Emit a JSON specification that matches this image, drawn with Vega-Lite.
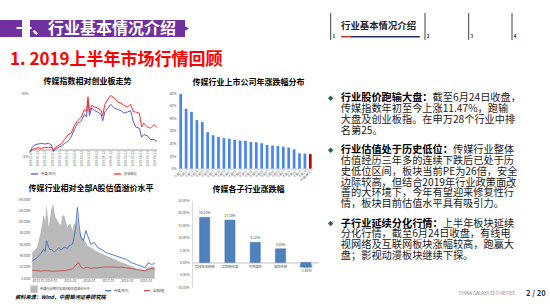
{
  "$schema": "https://vega.github.io/schema/vega-lite/v6.json",
  "background": "white",
  "padding": 0,
  "datasets": {
    "trend": [
      {"date":"2019-01-02","media":-2,"cyb":-2},
      {"date":"2019-01-05","media":2,"cyb":0},
      {"date":"2019-01-09","media":4,"cyb":1},
      {"date":"2019-01-13","media":4.5,"cyb":1.5},
      {"date":"2019-01-18","media":5,"cyb":1},
      {"date":"2019-01-22","media":4.5,"cyb":2},
      {"date":"2019-01-27","media":5,"cyb":1.5},
      {"date":"2019-01-31","media":4,"cyb":2},
      {"date":"2019-02-03","media":-1.5,"cyb":-0.5},
      {"date":"2019-02-06","media":1,"cyb":2},
      {"date":"2019-02-09","media":1.5,"cyb":3},
      {"date":"2019-02-14","media":3,"cyb":5},
      {"date":"2019-02-18","media":5,"cyb":8},
      {"date":"2019-02-23","media":7,"cyb":12},
      {"date":"2019-02-27","media":10,"cyb":13},
      {"date":"2019-03-04","media":17,"cyb":20},
      {"date":"2019-03-08","media":21,"cyb":23},
      {"date":"2019-03-13","media":23,"cyb":26},
      {"date":"2019-03-17","media":28,"cyb":32},
      {"date":"2019-03-20","media":26,"cyb":30},
      {"date":"2019-03-22","media":39,"cyb":42},
      {"date":"2019-03-24","media":27,"cyb":30},
      {"date":"2019-03-27","media":33,"cyb":35},
      {"date":"2019-03-31","media":31,"cyb":34},
      {"date":"2019-04-04","media":30,"cyb":33},
      {"date":"2019-04-09","media":28,"cyb":31},
      {"date":"2019-04-11","media":23,"cyb":27},
      {"date":"2019-04-14","media":30,"cyb":36},
      {"date":"2019-04-18","media":33,"cyb":40},
      {"date":"2019-04-22","media":36,"cyb":43},
      {"date":"2019-04-27","media":33,"cyb":41},
      {"date":"2019-05-01","media":32,"cyb":38},
      {"date":"2019-05-06","media":31,"cyb":37},
      {"date":"2019-05-10","media":29,"cyb":35},
      {"date":"2019-05-15","media":30,"cyb":34},
      {"date":"2019-05-19","media":31,"cyb":36},
      {"date":"2019-05-23","media":22,"cyb":30},
      {"date":"2019-05-26","media":18,"cyb":30},
      {"date":"2019-05-31","media":17,"cyb":29},
      {"date":"2019-06-03","media":10,"cyb":18},
      {"date":"2019-06-06","media":12,"cyb":21},
      {"date":"2019-06-11","media":11,"cyb":18},
      {"date":"2019-06-15","media":8,"cyb":17},
      {"date":"2019-06-20","media":8,"cyb":20},
      {"date":"2019-06-24","media":6.5,"cyb":17.5}
    ],
    "stocks": [
      {"name":"个股01","pct":59.2,"kind":"个股"},
      {"name":"个股02","pct":47.5,"kind":"个股"},
      {"name":"个股03","pct":45.1,"kind":"个股"},
      {"name":"个股04","pct":38.5,"kind":"个股"},
      {"name":"个股05","pct":36.9,"kind":"个股"},
      {"name":"个股06","pct":28.9,"kind":"个股"},
      {"name":"个股07","pct":26.5,"kind":"个股"},
      {"name":"个股08","pct":25.2,"kind":"个股"},
      {"name":"个股09","pct":24.1,"kind":"个股"},
      {"name":"个股10","pct":23.8,"kind":"个股"},
      {"name":"个股11","pct":22.8,"kind":"个股"},
      {"name":"个股12","pct":22.2,"kind":"个股"},
      {"name":"个股13","pct":22.0,"kind":"个股"},
      {"name":"个股14","pct":21.2,"kind":"个股"},
      {"name":"个股15","pct":20.9,"kind":"个股"},
      {"name":"个股16","pct":20.1,"kind":"个股"},
      {"name":"个股17","pct":18.8,"kind":"个股"},
      {"name":"个股18","pct":18.3,"kind":"个股"},
      {"name":"个股19","pct":18.0,"kind":"个股"},
      {"name":"个股20","pct":17.4,"kind":"个股"},
      {"name":"个股21","pct":16.7,"kind":"个股"},
      {"name":"个股22","pct":15.3,"kind":"个股"},
      {"name":"个股23","pct":12.1,"kind":"个股"},
      {"name":"个股24","pct":11.9,"kind":"个股"},
      {"name":"传媒(申万)","pct":11.47,"kind":"行业指数"}
    ],
    "valuation": [
      {"date":"2013-01-04","premium":45,"media":30,"allA":13.6},
      {"date":"2013-04-08","premium":54,"media":36,"allA":13},
      {"date":"2013-06-10","premium":78,"media":42,"allA":12.5},
      {"date":"2013-08-15","premium":113,"media":51,"allA":13},
      {"date":"2013-09-12","premium":100,"media":47,"allA":13},
      {"date":"2013-10-08","premium":131,"media":66,"allA":13},
      {"date":"2013-11-20","premium":90,"media":54,"allA":12.5},
      {"date":"2013-12-16","premium":105,"media":50,"allA":12.2},
      {"date":"2014-01-06","premium":122,"media":51,"allA":12},
      {"date":"2014-02-14","premium":131,"media":48,"allA":12},
      {"date":"2014-03-12","premium":115,"media":46,"allA":12},
      {"date":"2014-04-01","premium":107,"media":48,"allA":12.5},
      {"date":"2014-06-03","premium":98,"media":54,"allA":12.5},
      {"date":"2014-07-10","premium":92,"media":50,"allA":12.8},
      {"date":"2014-08-07","premium":110,"media":51,"allA":13},
      {"date":"2014-09-10","premium":112,"media":55,"allA":13.2},
      {"date":"2014-10-13","premium":101,"media":54,"allA":13.5},
      {"date":"2014-11-12","premium":90,"media":52,"allA":14},
      {"date":"2014-12-17","premium":95,"media":57,"allA":15},
      {"date":"2015-01-15","premium":96,"media":58,"allA":15.5},
      {"date":"2015-02-20","premium":84,"media":60,"allA":16},
      {"date":"2015-03-23","premium":98,"media":72,"allA":19},
      {"date":"2015-04-23","premium":92,"media":90,"allA":22},
      {"date":"2015-05-26","premium":107,"media":125,"allA":26},
      {"date":"2015-06-26","premium":87,"media":95,"allA":27},
      {"date":"2015-07-30","premium":75,"media":72,"allA":20},
      {"date":"2015-09-20","premium":69,"media":66,"allA":17},
      {"date":"2015-11-06","premium":63,"media":84,"allA":19},
      {"date":"2015-12-09","premium":57,"media":75,"allA":19},
      {"date":"2016-02-10","premium":54,"media":60,"allA":17},
      {"date":"2016-04-16","premium":50,"media":63,"allA":18},
      {"date":"2016-06-20","premium":46,"media":54,"allA":18},
      {"date":"2016-08-25","premium":44,"media":51,"allA":19},
      {"date":"2016-11-30","premium":40,"media":45,"allA":19.6},
      {"date":"2017-03-06","premium":36,"media":42,"allA":19.6},
      {"date":"2017-06-12","premium":32,"media":39,"allA":19},
      {"date":"2017-09-20","premium":28,"media":36,"allA":19},
      {"date":"2017-12-25","premium":25,"media":33,"allA":18},
      {"date":"2018-04-01","premium":21,"media":27,"allA":17},
      {"date":"2018-07-09","premium":17,"media":24,"allA":15},
      {"date":"2018-10-12","premium":15,"media":21,"allA":13.6},
      {"date":"2018-12-17","premium":14,"media":18,"allA":12.5},
      {"date":"2019-02-20","premium":18,"media":27,"allA":15},
      {"date":"2019-04-26","premium":21,"media":24,"allA":17},
      {"date":"2019-06-24","premium":20,"media":26,"allA":15.4}
    ],
    "sectors": [
      {"sector":"有线电视网络","pct":0.1821},
      {"sector":"互联网传媒","pct":0.1710},
      {"sector":"平面媒体","pct":0.0812},
      {"sector":"营销传播","pct":0.0550},
      {"sector":"影视动漫","pct":-0.0185}
    ],
    "nav": [
      {"n":1,"label":"行业基本情况介绍"},
      {"n":2,"label":""},
      {"n":3,"label":""},
      {"n":4,"label":""}
    ],
    "notes": [
      {"bullet":1,"line":0,"lead":"行业股价跑输大盘：","body":"截至6月24日收盘，"},
      {"bullet":1,"line":1,"lead":"","body":"传媒指数年初至今上涨11.47%，跑输"},
      {"bullet":1,"line":2,"lead":"","body":"大盘及创业板指。在申万28个行业中排"},
      {"bullet":1,"line":3,"lead":"","body":"名第25。"},
      {"bullet":2,"line":4,"lead":"行业估值处于历史低位：","body":"传媒行业整体"},
      {"bullet":2,"line":5,"lead":"","body":"估值经历三年多的连续下跌后已处于历"},
      {"bullet":2,"line":6,"lead":"","body":"史低位区间，板块当前PE为26倍，安全"},
      {"bullet":2,"line":7,"lead":"","body":"边际较高，但结合2019年行业政策面改"},
      {"bullet":2,"line":8,"lead":"","body":"善的大环境下，今年有望迎来修复性行"},
      {"bullet":2,"line":9,"lead":"","body":"情，板块目前估值水平具有吸引力。"},
      {"bullet":3,"line":10,"lead":"子行业延续分化行情：","body":"上半年板块延续"},
      {"bullet":3,"line":11,"lead":"","body":"分化行情，截至6月24日收盘，有线电"},
      {"bullet":3,"line":12,"lead":"","body":"视网络及互联网板块涨幅较高，跑赢大"},
      {"bullet":3,"line":13,"lead":"","body":"盘；影视动漫板块继续下探。"}
    ]
  },
  "columns": 6,
  "spacing": 0,
  "align": "each",
  "bounds": "flush",
  "resolve": {"scale": {"x": "independent", "y": "independent", "color": "independent"}, "legend": {"color": "independent"}},
  "concat": [
    {"width":22,"height":20,"data":{"values":[]},"mark":"text"},
    {"width":127,"height":1,"data":{"values":[]},"mark":"text"},
    {"width":21,"height":1,"data":{"values":[]},"mark":"text"},
    {"width":141,"height":1,"data":{"values":[]},"mark":"text"},
    {"width":7,"height":1,"data":{"values":[]},"mark":"text"},
    {"width":221,"height":1,"data":{"values":[]},"mark":"text"},

    {"width":22,"height":17,"view":{"fill":"#7030a0","stroke":null},"data":{"values":[]},"mark":"text"},
    {"width":127,"height":17,"view":{"fill":"#7030a0","stroke":null},"data":{"values":[]},"mark":"text"},
    {"width":21,"height":17,"view":{"fill":"#7030a0","stroke":null},"data":{"values":[]},"mark":"text"},
    {"width":7,"height":17,"view":{"fill":"#7030a0","stroke":null},
     "data":{"values":[{"t":"一、行业基本情况介绍"}]},
     "layer":[
       {"mark":{"type":"point","shape":"triangle-right","filled":true,"size":300,"color":"#7030a0","opacity":1,"dx":0},"encoding":{}},
       {"mark":{"type":"text","color":"white","fontSize":16,"fontWeight":"bold","baseline":"middle","dx":-85.5},
        "encoding":{"text":{"field":"t"}}}
     ]},
    {"width":1,"height":1,"data":{"values":[]},"mark":"text"},
    {"width":221,"height":17,"data":{"name":"nav"},
     "layer":[
       {"mark":{"type":"rule","color":"#404040","strokeWidth":1},
        "encoding":{
          "x":{"field":"n","type":"quantitative","scale":{"domain":[1,2,3,4],"range":[4.7,99,142.7,186],"nice":false,"zero":false},"axis":null},
          "y":{"datum":1.4118,"type":"quantitative","scale":{"domain":[0,1],"nice":false,"zero":false},"axis":null},
          "y2":{"datum":-0.1765}}},
       {"mark":{"type":"text","align":"left","baseline":"middle","dx":1.8,"dy":8.8,"fontSize":4.5,"fontWeight":"bold","color":"#222222"},
        "encoding":{"x":{"field":"n","type":"quantitative"},"text":{"field":"n"}}},
       {"transform":[{"filter":"datum.label !== ''"}],
        "mark":{"type":"text","align":"left","baseline":"middle","dx":10.3,"dy":-2.5,"fontSize":9.4,"fontWeight":"bold","color":"#222222"},
        "encoding":{"x":{"field":"n","type":"quantitative"},"text":{"field":"label"}}},
       {"transform":[{"filter":"datum.n === 1"}],
        "mark":{"type":"rule","color":"#c0392b","strokeWidth":1.5},
        "encoding":{"x":{"datum":1.109,"type":"quantitative"},"x2":{"datum":1.215},"y":{"datum":0.0176,"type":"quantitative"}}},
       {"transform":[{"filter":"datum.n === 1"}],
        "mark":{"type":"rule","color":"#1f2a6e","strokeWidth":1.5},
        "encoding":{"x":{"datum":1.215,"type":"quantitative"},"x2":{"datum":1.944},"y":{"datum":0.0176,"type":"quantitative"}}}
     ]},

    {"width":20,"height":46,"data":{"values":[{"t":"1. 2019上半年市场行情回顾"}]},
     "mark":{"type":"text","align":"left","baseline":"middle","fontSize":17,"fontWeight":"bold","color":"#ff0000"},
     "encoding":{"text":{"field":"t"}}},
    {"width":1,"height":56,"data":{"values":[]},"mark":"text"},
    {"width":1,"height":1,"data":{"values":[]},"mark":"text"},
    {"width":1,"height":1,"data":{"values":[]},"mark":"text"},
    {"width":1,"height":1,"data":{"values":[]},"mark":"text"},
    {"width":1,"height":1,"data":{"values":[]},"mark":"text"},

    {"width":1,"height":1,"data":{"values":[]},"mark":"text"},
    {"width":127,"height":63,"data":{"name":"trend"},
     "transform":[{"fold":["media","cyb"],"as":["series","value"]}],
     "title":{"text":"传媒指数相对创业板走势","fontSize":8,"fontWeight":"bold","offset":5.5,"dx":-6,"color":"#000000"},
     "layer":[
       {"mark":{"type":"rule","color":"#d0d0d0","strokeWidth":0.7},
        "encoding":{"y":{"datum":0,"type":"quantitative"}}},
       {"mark":{"type":"line","strokeWidth":1},
        "encoding":{
          "x":{"field":"date","type":"temporal","axis":{"title":null,"offset":-6.3,"format":"%Y-%m-%d","labelAngle":-90,"labelFontSize":3,"labelPadding":1,"ticks":false,"domain":false,"grid":false,"labelOverlap":false,
            "values":[{"year":2019,"month":1,"date":2},{"year":2019,"month":1,"date":12},{"year":2019,"month":1,"date":22},{"year":2019,"month":2,"date":1},{"year":2019,"month":2,"date":11},{"year":2019,"month":2,"date":21},{"year":2019,"month":3,"date":3},{"year":2019,"month":3,"date":13},{"year":2019,"month":3,"date":23},{"year":2019,"month":4,"date":2},{"year":2019,"month":4,"date":12},{"year":2019,"month":4,"date":22},{"year":2019,"month":5,"date":2},{"year":2019,"month":5,"date":12},{"year":2019,"month":5,"date":22},{"year":2019,"month":6,"date":1},{"year":2019,"month":6,"date":11},{"year":2019,"month":6,"date":21}]}},
          "y":{"field":"value","type":"quantitative","scale":{"domain":[-5,45]},"axis":{"title":null,"values":[-5,0,5,10,15,20,25,30,35,40,45],"labelExpr":"datum.value + '%'","labelFontSize":3.5,"labelPadding":2,"ticks":false,"domain":false,"grid":false}},
          "color":{"field":"series","type":"nominal","scale":{"domain":["media","cyb"],"range":["#5a5ac8","#ff2a2a"]},
            "legend":{"title":null,"orient":"bottom","direction":"horizontal","offset":2,"padding":0,"labelFontSize":3.2,"symbolType":"stroke","symbolSize":49,"symbolStrokeWidth":1.3,"labelOffset":2,"columnPadding":55,
              "labelExpr":"datum.label == 'media' ? '传媒(申万)' : '创业板指'"}}
        }}
     ]},
    {"width":1,"height":1,"data":{"values":[]},"mark":"text"},
    {"width":135,"height":75.6,"data":{"name":"stocks"},
     "title":{"text":"传媒行业上市公司年涨跌幅分布","fontSize":8,"fontWeight":"bold","offset":4.5,"dx":3,"color":"#000000"},
     "mark":{"type":"bar"},
     "encoding":{
       "x":{"field":"name","type":"nominal","sort":null,"scale":{"paddingInner":0.5,"paddingOuter":0.25},"axis":{"title":null,"labelAngle":-45,"labelFontSize":3,"labelPadding":1,"ticks":false,"domainColor":"#d0d0d0"}},
       "y":{"field":"pct","type":"quantitative","scale":{"domain":[0,60]},"axis":{"title":null,"values":[0,10,20,30,40,50,60],"labelExpr":"datum.value + '%'","labelFontSize":3.5,"labelPadding":2,"ticks":false,"domain":false,"grid":false}},
       "color":{"field":"kind","type":"nominal","scale":{"domain":["个股","行业指数"],"range":["#4a86e8","#c00000"]},"legend":null}
     }},
    {"width":1,"height":1,"data":{"values":[]},"mark":"text"},
    {"width":221,"height":63,"data":{"name":"notes"},
     "transform":[{"calculate":"datum.line + 0.8 * (datum.bullet - 1)","as":"pos"},{"calculate":"length(datum.lead)","as":"indent"}],
     "encoding":{"y":{"field":"pos","type":"quantitative","scale":{"domain":[-0.4907,5.3426],"reverse":true,"nice":false,"zero":false},"axis":null}},
     "layer":[
       {"transform":[{"filter":"datum.lead !== ''"}],
        "mark":{"type":"point","shape":"diamond","filled":true,"size":30,"color":"#2f5f68","opacity":1},
        "encoding":{"x":{"datum":-1,"type":"quantitative","scale":{"domain":[-1.454,20.218],"nice":false,"zero":false},"axis":null}}},
       {"transform":[{"filter":"datum.lead !== ''"}],
        "mark":{"type":"text","align":"left","baseline":"middle","fontSize":10.2,"fontWeight":"bold","color":"#000000"},
        "encoding":{"x":{"datum":0,"type":"quantitative"},"text":{"field":"lead"}}},
       {"mark":{"type":"text","align":"left","baseline":"middle","fontSize":10.2,"color":"#1a1a1a"},
        "encoding":{"x":{"field":"indent","type":"quantitative"},"text":{"field":"body"}}}
     ]},

    {"width":1,"height":1,"data":{"values":[]},"mark":"text"},
    {"width":1,"height":29.9,"data":{"values":[]},"mark":"text"},
    {"width":1,"height":1,"data":{"values":[]},"mark":"text"},
    {"width":1,"height":1,"data":{"values":[]},"mark":"text"},
    {"width":1,"height":1,"data":{"values":[]},"mark":"text"},
    {"width":1,"height":1,"data":{"values":[]},"mark":"text"},

    {"width":1,"height":1,"data":{"values":[]},"mark":"text"},
    {"width":127,"height":79,"data":{"name":"valuation"},
     "transform":[{"fold":["premium","media","allA"],"as":["series","value"]}],
     "title":{"text":"传媒行业相对全部A股估值溢价水平","fontSize":8,"fontWeight":"bold","offset":5,"dx":-2.5,"color":"#000000"},
     "encoding":{
       "x":{"field":"date","type":"temporal","scale":{"domain":[{"year":2013,"month":1,"date":1},{"year":2019,"month":6,"date":30}],"range":[2,125]},
         "axis":{"title":null,"format":"%Y-%m","labelFontSize":3.3,"labelPadding":0.5,"ticks":false,"domainColor":"#d0d0d0","grid":false,
           "values":[{"year":2013,"month":1,"date":1},{"year":2014,"month":1,"date":1},{"year":2015,"month":1,"date":1},{"year":2016,"month":1,"date":1},{"year":2017,"month":1,"date":1},{"year":2018,"month":1,"date":1},{"year":2019,"month":1,"date":1}]}},
       "y":{"field":"value","type":"quantitative","scale":{"domain":[0,140]},"axis":{"title":null,"offset":-2,"values":[0,20,40,60,80,100,120,140],"format":".4f","labelFontSize":3,"labelPadding":2,"ticks":false,"domain":false,"grid":false}},
       "color":{"field":"series","type":"nominal","scale":{"domain":["premium","media","allA"],"range":["#bababa","#4472c4","#c0504d"]},
         "legend":{"title":null,"orient":"bottom","direction":"horizontal","offset":3,"padding":0,"labelFontSize":3.2,"symbolSize":36,"symbolStrokeWidth":1.3,"labelOffset":2,"columnPadding":12,"labelLimit":200,
           "labelExpr":"datum.label == 'premium' ? '传媒行业相对全部A股估值溢价水平' : datum.label == 'media' ? '传媒(申万)' : '全部A股'",
           "encode":{"symbols":{"update":{"shape":{"signal":"datum.value == 'premium' ? 'square' : 'stroke'"}}}}}}
     },
     "layer":[
       {"transform":[{"filter":"datum.series === 'premium'"}],"mark":{"type":"area","opacity":1}},
       {"transform":[{"filter":"datum.series !== 'premium'"}],"mark":{"type":"line","strokeWidth":0.9}}
     ]},
    {"width":1,"height":1,"data":{"values":[]},"mark":"text"},
    {"width":141,"height":88.2,"data":{"name":"sectors"},
     "title":{"text":"传媒各子行业涨跌幅","fontSize":8,"fontWeight":"bold","offset":5,"dx":0,"color":"#000000"},
     "encoding":{
       "x":{"field":"sector","type":"nominal","sort":null,"scale":{"paddingInner":0.6,"paddingOuter":0.3,"range":[14,140.5]},"axis":{"title":null,"offset":-24.77,"labelAngle":0,"labelFontSize":3.3,"labelPadding":2,"ticks":false,"domainColor":"#bfbfbf"}},
       "y":{"field":"pct","type":"quantitative","scale":{"domain":[-0.10,0.25],"range":[88.2,1.5]},"axis":{"title":null,"offset":-14,"values":[-0.10,-0.05,0,0.05,0.10,0.15,0.20,0.25],"format":".2%","labelFontSize":3.3,"labelPadding":3,"ticks":false,"domain":true,"domainColor":"#d9d9d9","grid":false}}
     },
     "layer":[
       {"mark":{"type":"bar","color":"#4f81bd","stroke":"#3a6ea5","strokeWidth":0.5}},
       {"transform":[{"filter":"datum.pct >= 0"}],
        "mark":{"type":"text","baseline":"bottom","dy":-2,"fontSize":3.3,"color":"#404040"},
        "encoding":{"text":{"field":"pct","type":"quantitative","format":".2%"}}},
       {"transform":[{"filter":"datum.pct < 0"}],
        "mark":{"type":"text","baseline":"top","dy":2,"fontSize":3.3,"color":"#404040"},
        "encoding":{"text":{"field":"pct","type":"quantitative","format":".2%"}}}
     ]},
    {"width":1,"height":1,"data":{"values":[]},"mark":"text"},
    {"width":1,"height":1,"data":{"values":[]},"mark":"text"},

    {"width":30,"height":18.6,"data":{"values":[{"t":"资料来源：Wind，中国银河证券研究院"}]},
     "mark":{"type":"text","align":"left","baseline":"middle","fontSize":5.2,"fontStyle":"italic","fontWeight":"bold","color":"#000000"},
     "encoding":{"text":{"field":"t"}}},
    {"width":1,"height":1,"data":{"values":[]},"mark":"text"},
    {"width":1,"height":1,"data":{"values":[]},"mark":"text"},
    {"width":1,"height":1,"data":{"values":[]},"mark":"text"},
    {"width":1,"height":1,"data":{"values":[]},"mark":"text"},
    {"width":221,"height":12,
     "layer":[
       {"data":{"values":[{"t":"CHINA GALAXY SECURITIES"}]},
        "mark":{"type":"text","align":"right","baseline":"middle","dx":78.5,"fontSize":4.5,"color":"#808080"},
        "encoding":{"text":{"field":"t"}}},
       {"data":{"values":[{"t":"2 / 20"}]},
        "mark":{"type":"text","align":"left","baseline":"middle","dx":89.5,"fontSize":7.5,"fontWeight":"bold","color":"#333333"},
        "encoding":{"text":{"field":"t"}}}
     ]}
  ],
  "config": {
    "view": {"stroke": null},
    "font": "Noto Sans CJK SC",
    "axis": {"labelColor": "#595959", "domainColor": "#d9d9d9"},
    "legend": {"labelColor": "#404040"}
  }
}
